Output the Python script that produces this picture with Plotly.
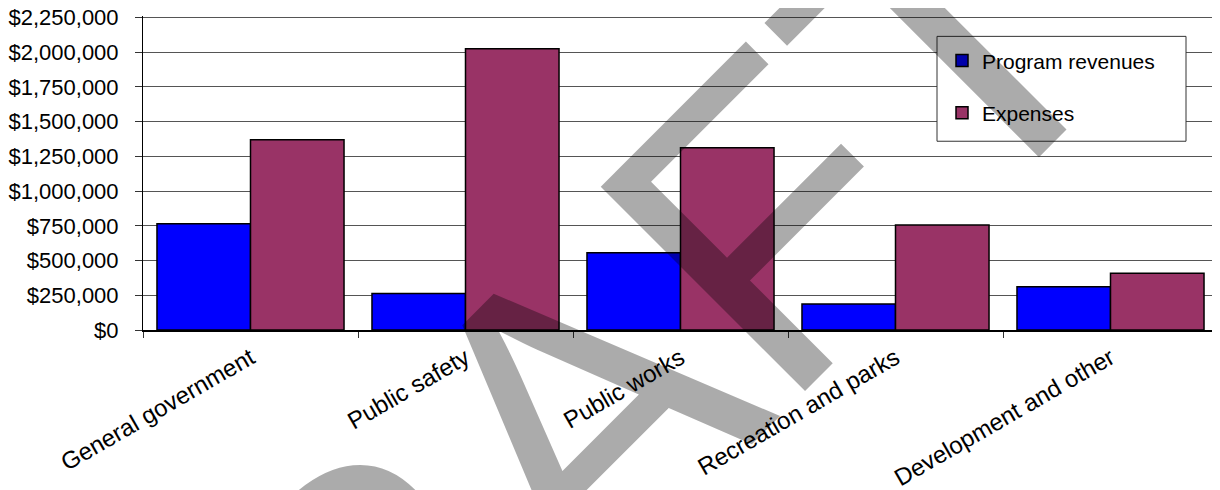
import plotly.graph_objects as go

categories = ["General government", "Public safety", "Public works",
              "Recreation and parks", "Development and other"]
program_revenues = [765000, 262000, 556000, 187000, 311000]
expenses = [1370000, 2025000, 1311000, 755000, 408000]
y_ticks = [0, 250000, 500000, 750000, 1000000, 1250000, 1500000,
           1750000, 2000000, 2250000]
y_tick_labels = ["$" + format(v, ",") for v in y_ticks]
watermark_text = "DRAFT"

FONT = "Liberation Sans, Arial, sans-serif"
OFF = 8  # page body margin
W, H = 1220 - OFF, 490 - OFF
Y_TOP_TICK = 2250000
Y_MAX = 2260000
# plot area in page pixels: x 143..1218, y (top)..330; 2,250,000 sits at y=17
PX0, PX1, PY1 = 143, 1218, 330
PY0 = PY1 - (PY1 - 17) * Y_MAX / Y_TOP_TICK
ML, MR, MT, MB = PX0 - OFF, 1220 - PX1, PY0 - OFF, 490 - PY1
PW = PX1 - PX0
PH = PY1 - PY0


def px(xp):
    return (xp - PX0) / PW


def py(yp):
    return (PY1 - yp) / PH


fig = go.Figure()
fig.add_trace(go.Bar(
    name="Program revenues", x=categories, y=program_revenues,
    marker=dict(color="#0000FF", line=dict(color="black", width=1.5)),
    legendgroup="a",
))
fig.add_trace(go.Bar(
    name="Expenses", x=categories, y=expenses,
    marker=dict(color="#993366", line=dict(color="black", width=1.5)),
    legendgroup="b",
))

# legend frame
fig.add_shape(type="rect", xref="paper", yref="paper",
              x0=px(937), x1=px(1186), y0=py(141), y1=py(36),
              fillcolor="white", line=dict(color="#333", width=1),
              layer="above")

fig.add_annotation(
    text=watermark_text, xref="paper", yref="paper",
    x=px(546), y=py(445),
    xanchor="center", yanchor="middle", showarrow=False,
    textangle=-45,
    font=dict(family=FONT, size=420, color="rgba(0,0,0,0.33)"),
)

fig.update_layout(
    width=W, height=H,
    margin=dict(l=ML, r=MR, t=MT, b=MB, autoexpand=False),
    paper_bgcolor="white", plot_bgcolor="white",
    barmode="group", bargap=0.13, bargroupgap=0,
    font=dict(family=FONT, size=21, color="black"),
    showlegend=True,
    legend=dict(
        x=px(942), y=py(40),
        xanchor="left", yanchor="top",
        bgcolor="rgba(0,0,0,0)", borderwidth=0,
        font=dict(family=FONT, size=21, color="black"),
        tracegroupgap=22,
        itemwidth=30,
    ),
)
fig.update_xaxes(
    automargin=False,
    showline=True, linecolor="black", linewidth=1.5,
    ticks="outside", ticklen=6, tickcolor="#333", tickson="boundaries",
    tickangle=-30, tickfont=dict(size=24, color="black"),
    ticklabelstandoff=3, ticklabeloverflow="allow",
    showgrid=False,
)
fig.update_yaxes(
    automargin=False,
    range=[0, Y_MAX], tickvals=y_ticks, ticktext=y_tick_labels,
    showline=True, linecolor="black", linewidth=1,
    ticks="outside", ticklen=7, tickcolor="#333",
    ticklabelstandoff=12, ticklabeloverflow="allow",
    showgrid=True, gridcolor="#555", gridwidth=1,
    tickfont=dict(size=22, color="black"),
    zeroline=False,
)
fig.write_html("out.html")
